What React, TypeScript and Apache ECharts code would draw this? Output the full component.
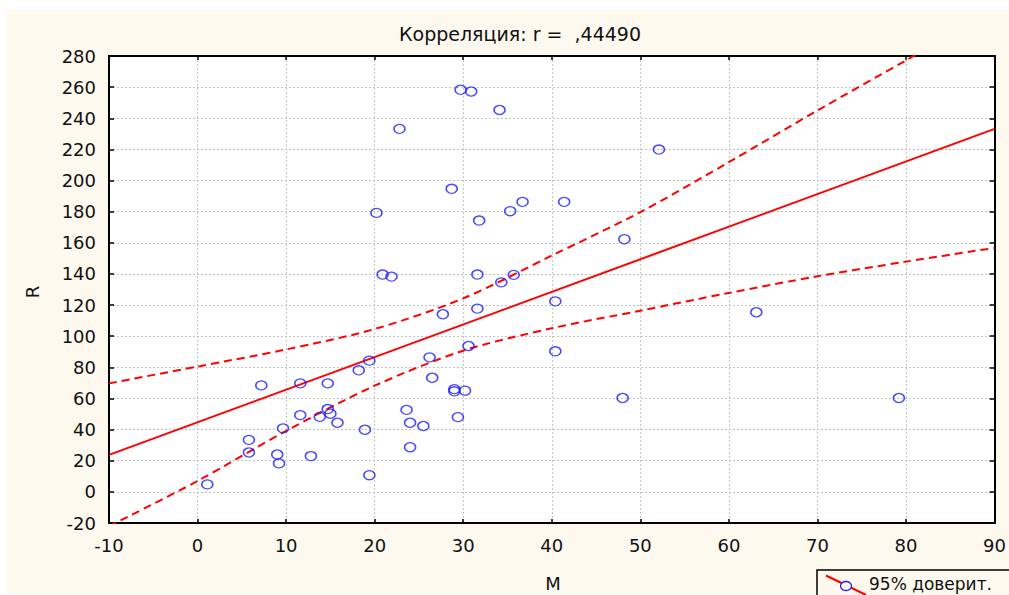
import React, { useEffect, useRef } from "react";
import * as echarts from "echarts";

// Observed points (M, R)
const pointsM = [
  1.1, 5.8, 5.8, 7.2, 9.0, 9.2, 9.65, 11.6, 11.6, 12.8,
  13.8, 14.7, 14.7, 15.0, 15.8, 18.2, 18.9, 19.4, 19.4, 20.2,
  20.9, 21.9, 22.8, 23.6, 24.0, 24.0, 25.5, 26.2, 26.5, 27.7,
  28.7, 29.0, 29.0, 29.4, 29.7, 30.2, 30.6, 30.9, 31.6, 31.6,
  31.8, 34.1, 34.3, 35.3, 35.7, 36.7, 40.4, 40.4, 41.4, 48.0,
  48.2, 52.1, 63.1, 79.2,
];
const pointsR = [
  4.8, 33.4, 25.3, 68.4, 24.0, 18.3, 40.8, 69.7, 49.3, 23.0,
  48.2, 69.7, 53.2, 50.2, 44.4, 78.1, 39.9, 84.3, 10.7, 179.2,
  139.6, 138.3, 233.2, 52.7, 44.4, 28.7, 42.3, 86.4, 73.3, 114.1,
  194.7, 66.0, 64.6, 48.0, 258.3, 65.0, 93.7, 257.2, 139.6, 117.7,
  174.3, 245.3, 134.6, 180.3, 139.4, 186.3, 122.4, 90.3, 186.3, 60.3,
  162.3, 219.9, 115.4, 60.3,
];

// Regression line
const regM = [-10, 90];
const regR = [23.8, 233.2];

// 95% confidence band
const bandM = [-10, 0, 10, 20, 30, 40, 50, 60, 70, 80, 90];
const bandUpper = [69.7, 80.5, 91.5, 104.6, 124.3, 151.8, 179.7, 211.8, 245.0, 277.2, 309.7];
const bandLower = [-22.1, 7.0, 39.2, 68.2, 90.7, 105.1, 116.4, 127.8, 138.5, 147.9, 156.7];

const title = "Корреляция: r =  ,44490";
const xName = "M";
const yName = "R";
const legendText = "95% доверит.";

const FONT = "'DejaVu Sans', Verdana, sans-serif";

export default function App() {
  const ref = useRef<HTMLDivElement>(null);

  useEffect(() => {
    if (!ref.current) return;
    const chart = echarts.init(ref.current, undefined, { renderer: "svg" });

    const scatterData = pointsM.map((m, i) => [m, pointsR[i]]);
    const regData = regM.map((m, i) => [m, regR[i]]);
    const upData = bandM.map((m, i) => [m, bandUpper[i]]);
    const loData = bandM.map((m, i) => [m, bandLower[i]]);

    const dashed = { color: "#ff0000", width: 2, type: [8, 5] as number[] };

    chart.setOption({
      animation: false,
      backgroundColor: "transparent",
      title: {
        text: title,
        left: 515,
        top: 19,
        textAlign: "center",
        textStyle: { fontFamily: FONT, fontSize: 19, fontWeight: "normal", color: "#111" },
      },
      grid: {
        left: 109,
        right: 11,
        top: 56,
        bottom: 72,
        show: true,
        backgroundColor: "#ffffff",
        borderWidth: 0,
      },
      xAxis: [
        {
          type: "value",
          min: -10,
          max: 90,
          interval: 10,
          position: "bottom",
          axisLine: { show: true, onZero: false, lineStyle: { color: "#000", width: 2 } },
          axisTick: { show: true, inside: true, length: 4, lineStyle: { color: "#000", width: 1.5 } },
          axisLabel: { fontFamily: FONT, fontSize: 18, color: "#111", margin: 13 },
          splitLine: { show: true, lineStyle: { color: "#c4c4c4", type: [2, 2], width: 1 } },
        },
        {
          type: "value",
          min: -10,
          max: 90,
          interval: 10,
          position: "top",
          axisLine: { show: true, onZero: false, lineStyle: { color: "#000", width: 2 } },
          axisTick: { show: true, inside: true, length: 4, lineStyle: { color: "#000", width: 1.5 } },
          axisLabel: { show: false },
          splitLine: { show: false },
        },
      ],
      yAxis: [
        {
          type: "value",
          min: -20,
          max: 280,
          interval: 20,
          position: "left",
          axisLine: { show: true, onZero: false, lineStyle: { color: "#000", width: 2 } },
          axisTick: { show: true, inside: true, length: 5, lineStyle: { color: "#000", width: 1.5 } },
          axisLabel: { fontFamily: FONT, fontSize: 18, color: "#111", margin: 13 },
          splitLine: { show: true, lineStyle: { color: "#c4c4c4", type: [2, 2], width: 1 } },
        },
        {
          type: "value",
          min: -20,
          max: 280,
          interval: 20,
          position: "right",
          axisLine: { show: true, onZero: false, lineStyle: { color: "#000", width: 2 } },
          axisTick: { show: true, inside: true, length: 5, lineStyle: { color: "#000", width: 1.5 } },
          axisLabel: { show: false },
          splitLine: { show: false },
        },
      ],
      series: [
        {
          type: "line",
          data: upData,
          smooth: 0.3,
          showSymbol: false,
          lineStyle: dashed,
          clip: true,
          z: 2,
        },
        {
          type: "line",
          data: loData,
          smooth: 0.3,
          showSymbol: false,
          lineStyle: dashed,
          clip: true,
          z: 2,
        },
        {
          type: "line",
          data: regData,
          showSymbol: false,
          lineStyle: { color: "#ff0000", width: 2 },
          clip: true,
          z: 2,
        },
        {
          type: "scatter",
          data: scatterData,
          symbol: "circle",
          symbolSize: [11, 9],
          itemStyle: { color: "rgba(255,255,255,0)", borderColor: "#1c1cff", borderWidth: 1.4 },
          z: 3,
        },
      ],
      graphic: [
        {
          type: "rect",
          z: -100,
          silent: true,
          shape: { x: 7, y: 10, width: 1002, height: 584 },
          style: { fill: "#fdf9ef" },
        },
        {
          type: "text",
          x: 32,
          y: 292,
          rotation: Math.PI / 2,
          style: { text: yName, fontFamily: FONT, fontSize: 18, fill: "#111", align: "center", verticalAlign: "middle" },
        },
        {
          type: "text",
          x: 553,
          y: 583,
          style: { text: xName, fontFamily: FONT, fontSize: 18, fill: "#111", align: "center", verticalAlign: "middle" },
        },
        {
          type: "group",
          z: 100,
          children: [
            {
              type: "rect",
              shape: { x: 817, y: 570, width: 260, height: 50 },
              style: { fill: "#fdf9ef", stroke: "#000", lineWidth: 1.5 },
            },
            {
              type: "line",
              shape: { x1: 826, y1: 575.5, x2: 866, y2: 595 },
              style: { stroke: "#ff0000", lineWidth: 2 },
            },
            {
              type: "ellipse",
              shape: { cx: 846, cy: 586, rx: 5.5, ry: 4.5 },
              style: { fill: "#fdf9ef", stroke: "#1c1cff", lineWidth: 1.3 },
            },
            {
              type: "text",
              x: 869,
              y: 584,
              style: {
                text: legendText,
                fontFamily: FONT,
                fontSize: 17,
                lineHeight: 18,
                fill: "#111",
                verticalAlign: "middle",
              },
            },
          ],
        },
      ],
    });

    return () => chart.dispose();
  }, []);

  return (
    <div
      ref={ref}
      style={{ position: "absolute", left: 0, top: 0, width: 1009, height: 595, background: "#ffffff" }}
    />
  );
}
